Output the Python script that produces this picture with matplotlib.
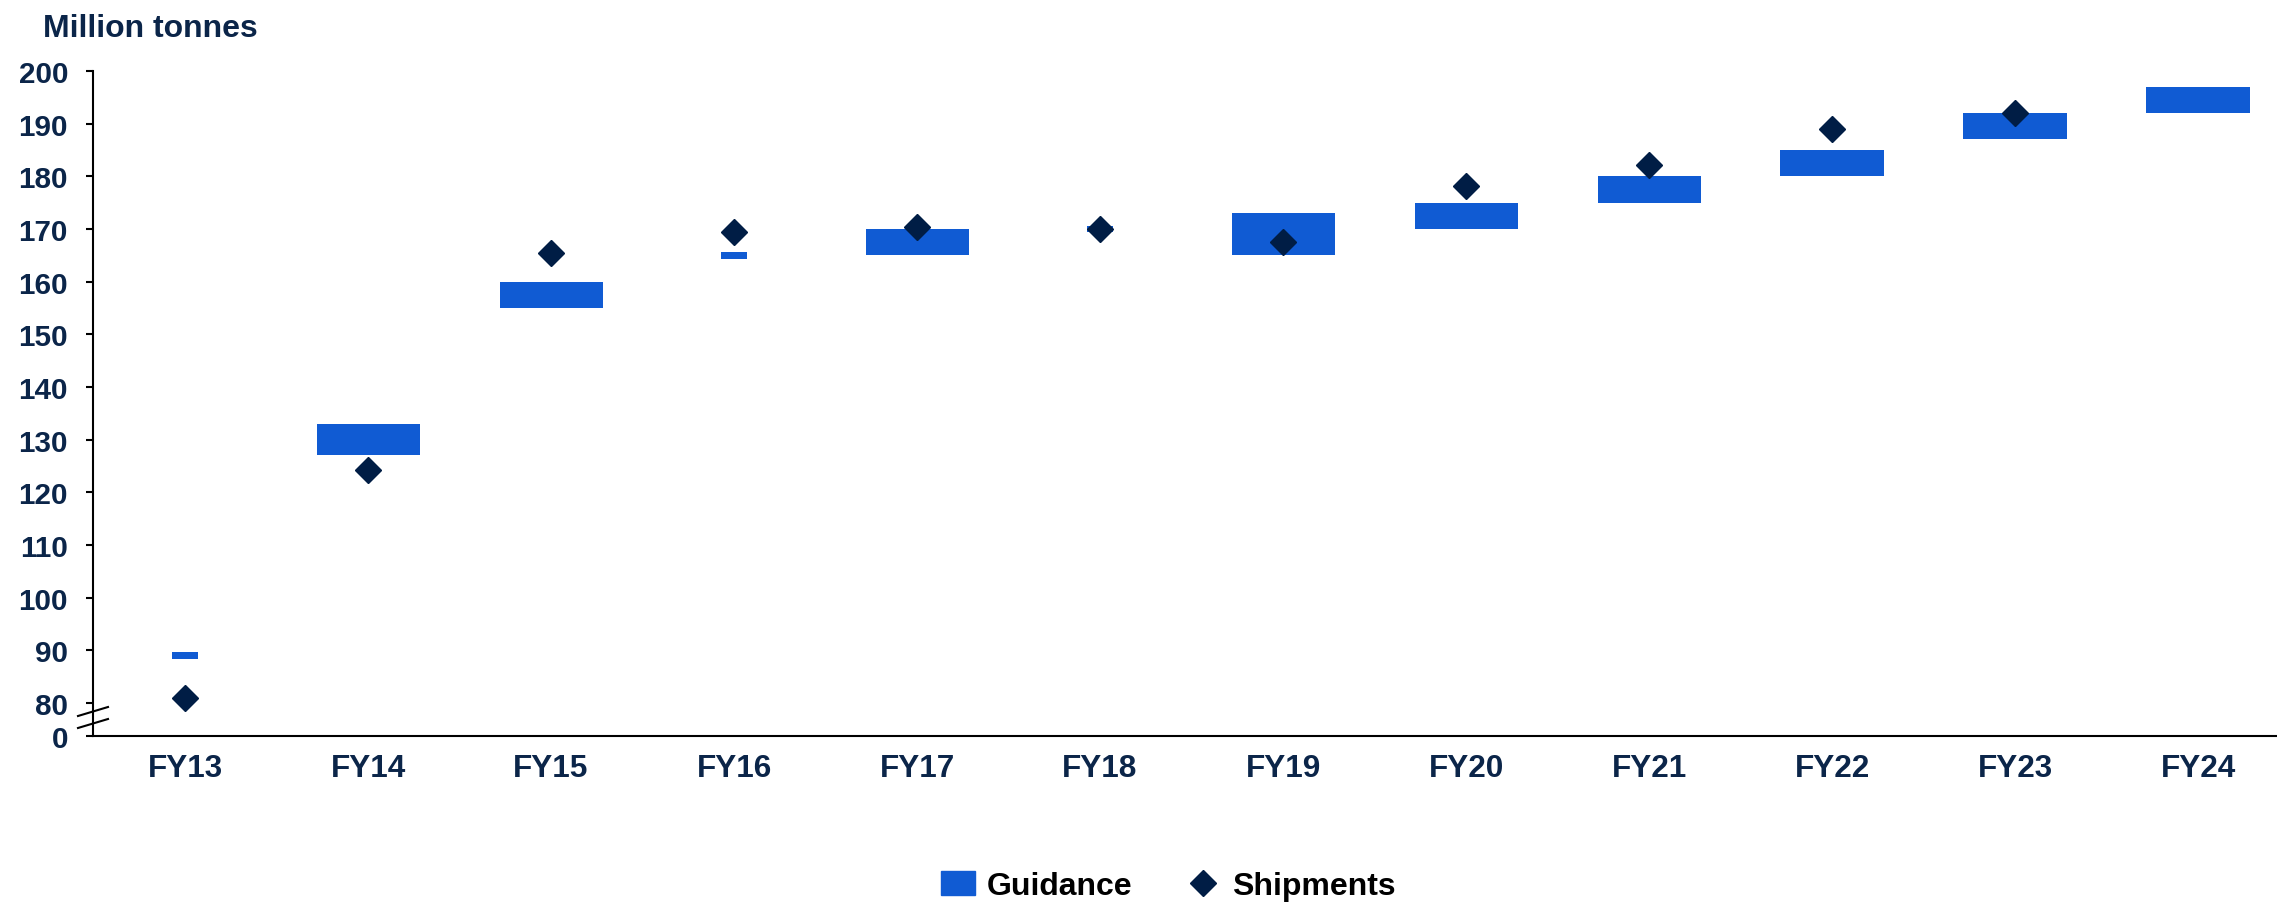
import numpy as np
import matplotlib
matplotlib.use('Agg')
import matplotlib.pyplot as plt
from matplotlib.patches import Patch
from matplotlib.lines import Line2D

plt.rcParams['font.family'] = ['Liberation Sans', 'DejaVu Sans']
plt.rcParams['font.weight'] = 'bold'

years = ['FY13', 'FY14', 'FY15', 'FY16', 'FY17', 'FY18',
         'FY19', 'FY20', 'FY21', 'FY22', 'FY23', 'FY24']
guidance_low = [89, 127, 155, 165, 165, 170, 165, 170, 175, 180, 187, 192]
guidance_high = [89, 133, 160, 165, 170, 170, 173, 175, 180, 185, 192, 197]
shipments = [81, 124.3, 165.5, 169.4, 170.4, 170, 167.6, 178.2, 182.2, 189, 192, np.nan]
yticks = [0, 80, 90, 100, 110, 120, 130, 140, 150, 160, 170, 180, 190, 200]

bar_col = '#105BD3'
dot_col = '#001D45'
txt_col = '#0B2549'

# broken axis: 0..80 squeezed into a small band
zero_pos = 73.74
def fwd(v):
    v = np.asarray(v, dtype=float)
    return np.where(v >= 80, v, zero_pos + v * (80 - zero_pos) / 80)

def inv(u):
    u = np.asarray(u, dtype=float)
    return np.where(u >= 80, u, (u - zero_pos) * 80 / (80 - zero_pos))

W, H = 2277, 903
fig = plt.figure(figsize=(W / 100, H / 100), dpi=100)
ax = fig.add_axes([93 / W, 1 - 737 / H, 1 - 93 / W, (737 - 72) / H])
ax.set_yscale('function', functions=(fwd, inv))

x = np.arange(len(years))
lo = np.array(guidance_low, dtype=float)
hi = np.array(guidance_high, dtype=float)
rng = hi > lo
ax.bar(x[rng], hi[rng] - lo[rng], bottom=lo[rng], width=0.563, color=bar_col, zorder=2)
# single-value guidance drawn as a short thin dash
ax.bar(x[~rng], 1.2, bottom=lo[~rng] - 0.6, width=0.14, color=bar_col, zorder=2)
ax.plot(x, shipments, linestyle='none', marker='D', markersize=13,
        color=dot_col, zorder=3)

ax.set_xlim(-0.503, (W - 185) / 183)
ax.set_ylim(0, 200)
ax.set_yticks(yticks)
ax.set_yticklabels([str(t) for t in yticks])
ax.minorticks_off()
ax.set_xticks(x)
ax.set_xticklabels(years)

for s in ['top', 'right']:
    ax.spines[s].set_visible(False)
for s in ['left', 'bottom']:
    ax.spines[s].set_linewidth(1.5)
    ax.spines[s].set_color('black')
ax.tick_params(axis='y', length=5, width=1.5, pad=13, labelsize=21.3, labelcolor=txt_col)
ax.tick_params(axis='x', length=0, pad=12, labelsize=22.7, labelcolor=txt_col)

# axis break marks
for y0 in [717, 729]:
    fig.add_artist(Line2D([78 / W, 108 / W], [1 - y0 / H, 1 - (y0 - 9) / H],
                          transform=fig.transFigure, color='black', lw=1.5))

fig.text(43 / W, 1 - 37 / H, 'Million tonnes', fontsize=23, color=txt_col,
         fontweight='bold', ha='left', va='baseline')

handles = [Patch(color=bar_col, label='Guidance'),
           Line2D([], [], linestyle='none', marker='D', markersize=13,
                  color=dot_col, label='Shipments')]
fig.legend(handles=handles, loc='center', bbox_to_anchor=(0.513, 1 - 887 / H),
           ncol=2, frameon=False, fontsize=23, handlelength=1.07,
           handleheight=0.75, handletextpad=0.38, columnspacing=1.66)

fig.savefig('out.png', dpi=100)
